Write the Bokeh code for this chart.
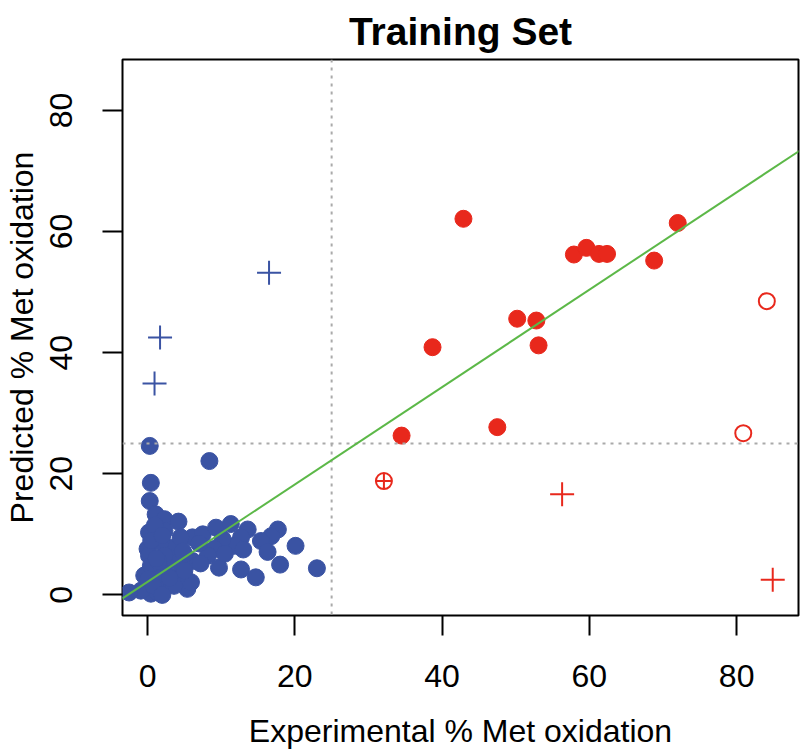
from bokeh.plotting import figure
from bokeh.models import Range1d, Span, Slope, FixedTicker
from bokeh.embed import file_html
from bokeh.resources import INLINE

# ---- data ----
blue_x = [0.3, 8.4, 0.45, 0.3, 1.1, 2.3, 4.2, 0.2, 2.3, 6.1, 7.5, 9.3, 11.3, 13.6, 17.7, 16.8, 15.4,
          20.1, 16.3, 12.7, 11.8, 10.2, 9.1, 8.2, 9.7, 12.7, 14.7, 18.0, 23.0, 5.4, 5.9, 6.1, 5.0,
          3.2, 1.8, 0.0, 0.2, -0.45, 0.45, 2.3, 3.6, 4.1, 2.7, 0.45, -0.9, -2.5, 1.4, 3.6, 1.4,
          0.1, 2.3, 1.0, 0.5, 1.5, 0.8, 2.0, 10.5, 7.0, 13.0, 4.5, 1.2, 5.0, 7.2, 3.0, 4.8, 2.0]
blue_y = [24.6, 22.1, 18.5, 15.5, 13.3, 12.5, 12.1, 10.3, 10.6, 9.5, 10.0, 11.1, 11.7, 10.8, 10.8, 9.7, 8.9,
          8.1, 7.1, 9.5, 8.1, 9.2, 7.6, 6.5, 4.5, 4.2, 2.9, 5.0, 4.4, 1.0, 2.1, 5.6, 6.7,
          7.8, 8.7, 7.6, 6.5, 3.2, 4.8, 4.3, 5.9, 3.2, 1.5, 0.2, 0.7, 0.4, 0.4, 1.5, 2.6,
          2.6, 6.5, 11.5, 9.0, 5.5, 1.5, 0.0, 6.8, 8.5, 7.5, 9.5, 6.0, 4.0, 5.2, 2.8, 7.2, 9.8]
blue_plus_x = [16.5, 1.7, 0.95]
blue_plus_y = [53.2, 42.5, 34.9]

red_x = [42.9, 57.9, 59.6, 61.3, 62.4, 68.8, 72.0, 38.7, 50.2, 52.8, 53.1, 34.5, 47.5]
red_y = [62.1, 56.2, 57.3, 56.3, 56.3, 55.2, 61.4, 40.9, 45.6, 45.3, 41.2, 26.3, 27.7]
red_open_x = [84.1, 80.9]
red_open_y = [48.5, 26.7]
red_circlecross_x = [32.1]
red_circlecross_y = [18.8]
red_plus_x = [56.3, 84.9]
red_plus_y = [16.6, 2.5]

fit_intercept = 2.15
fit_slope = 0.804
threshold = 25
ticks = [0, 20, 40, 60, 80]
x_min, x_max = -3.4, 88.4
y_min, y_max = -3.4, 88.4

BLUE = "#3a53a3"
RED = "#e8281c"
GREEN = "#5cb848"
FONT = "Liberation Sans"

p = figure(width=800, height=751, output_backend="svg", toolbar_location=None,
           x_range=Range1d(x_min, x_max), y_range=Range1d(y_min, y_max),
           min_border_left=122, min_border_top=59, min_border_right=2, min_border_bottom=136,
           title="Training Set")
p.background_fill_color = "white"
p.border_fill_color = "white"
p.outline_line_color = "black"
p.outline_line_width = 2
p.xgrid.visible = False
p.ygrid.visible = False

p.title.align = "center"
p.title.text_font = FONT
p.title.text_font_style = "bold"
p.title.text_font_size = "39px"
p.title.text_color = "black"
p.title.standoff = 14

for ax in (p.xaxis[0], p.yaxis[0]):
    ax.ticker = FixedTicker(ticks=ticks)
    ax.axis_line_color = None
    ax.major_tick_out = 20
    ax.major_tick_in = 0
    ax.major_tick_line_width = 2
    ax.major_tick_line_color = "black"
    ax.minor_tick_line_color = None
    ax.major_label_text_font = FONT
    ax.major_label_text_font_size = "32px"
    ax.major_label_text_color = "black"
    ax.axis_label_text_font = FONT
    ax.axis_label_text_font_size = "32px"
    ax.axis_label_text_font_style = "normal"
    ax.axis_label_text_color = "black"

p.xaxis.axis_label = "Experimental % Met oxidation"
p.yaxis.axis_label = "Predicted % Met oxidation"
p.xaxis.major_label_standoff = 29
p.xaxis.axis_label_standoff = 23
p.yaxis.major_label_orientation = "vertical"
p.yaxis.major_label_standoff = 30
p.yaxis.axis_label_standoff = 8

p.add_layout(Span(location=threshold, dimension="height", line_color="#aaaaaa",
                  line_width=2, line_dash="3 5"))
p.add_layout(Span(location=threshold, dimension="width", line_color="#aaaaaa",
                  line_width=2, line_dash="3 5"))

p.scatter(blue_x, blue_y, size=17, color=BLUE, marker="circle")
p.scatter(blue_plus_x, blue_plus_y, size=24, marker="cross", line_color=BLUE, line_width=2)
p.scatter(red_x, red_y, size=17, color=RED, marker="circle")
p.scatter(red_open_x, red_open_y, size=16, marker="circle", fill_color=None,
          line_color=RED, line_width=2)
p.scatter(red_circlecross_x, red_circlecross_y, size=16, marker="circle_cross",
          fill_color=None, line_color=RED, line_width=2)
p.scatter(red_plus_x, red_plus_y, size=24, marker="cross", line_color=RED, line_width=2)

p.add_layout(Slope(gradient=fit_slope, y_intercept=fit_intercept, line_color=GREEN, line_width=2))

open("out.html", "w").write(file_html(p, INLINE))
